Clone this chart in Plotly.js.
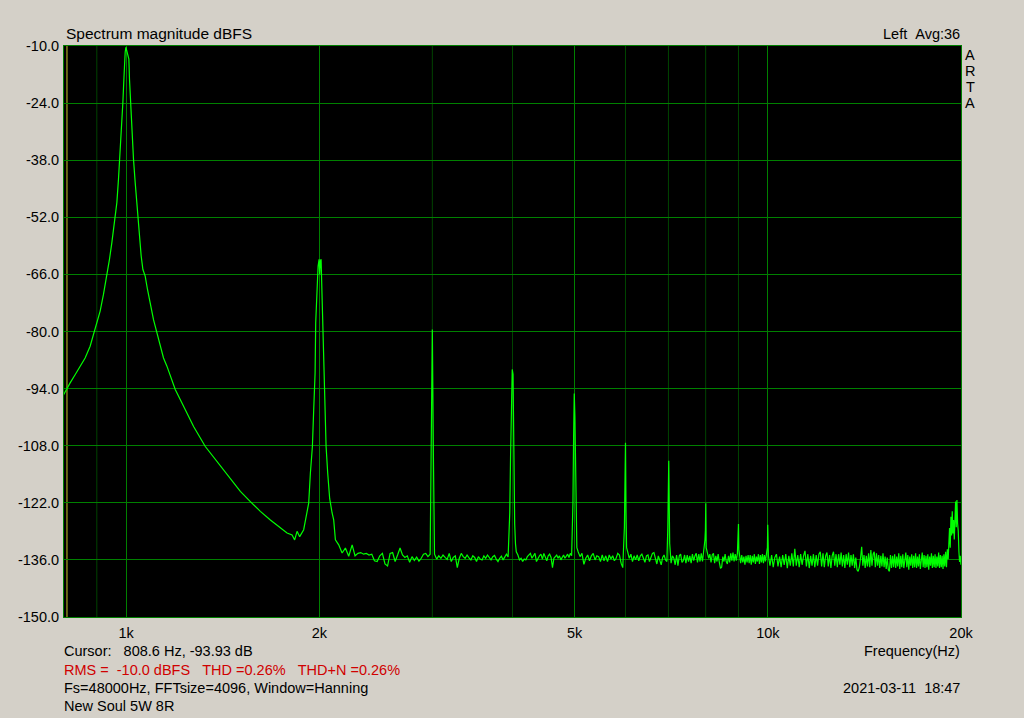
<!DOCTYPE html>
<html><head><meta charset="utf-8">
<script src="https://cdn.plot.ly/plotly-3.0.1.min.js"></script>
<style>html,body{margin:0;padding:0;background:#D4D0C8;overflow:hidden}#chart{width:1024px;height:718px}</style>
</head><body><div id="chart"></div>
<script>
// FFT parameters (shown on the chart)
const sampleRate = 48000;
const fftSize = 4096;
const cursorHz = 808.6;

// Axis ticks
const yTicks = [-10, -24, -38, -52, -66, -80, -94, -108, -122, -136, -150];
const yTickText = ['-10.0', '-24.0', '-38.0', '-52.0', '-66.0', '-80.0', '-94.0', '-108.0', '-122.0', '-136.0', '-150.0'];
const xMajorTicks = [1000, 2000, 5000, 10000, 20000];
const xTickText = ['1k', '2k', '5k', '10k', '20k'];
const xMinorGrid = [900, 3000, 4000, 6000, 7000, 8000, 9000];

// Fundamental, its skirt and the 2nd harmonic (Hz, dBFS)
const peakHz = [796.9, 808.6, 817.8, 832.5, 847.7, 863.0, 878.6, 889.2, 900.0, 910.8, 921.7, 933.0, 941.8, 949.9, 955.4, 961.3, 967.1, 972.7, 976.2, 981.1, 984.7, 988.2, 991.8, 993.9, 996.4, 998.9, 1002.5, 1006.1, 1009.7, 1011.9, 1014.5, 1018.1, 1021.8, 1026.6, 1032.9, 1039.2, 1042.9, 1049.0, 1055.3, 1061.8, 1070.6, 1079.5, 1090.0, 1103.0, 1116.5, 1129.8, 1143.3, 1157.4, 1178.4, 1192.5, 1214.0, 1231.8, 1273.6, 1328.3, 1385.4, 1444.3, 1506.3, 1561.4, 1618.5, 1677.6, 1738.9, 1781.2, 1813.5, 1830.5, 1846.3, 1863.7, 1890.7, 1925.0, 1936.8, 1950.8, 1959.9, 1969.8, 1974.0, 1983.9, 1991.0, 1998.2, 2002.5, 2007.5, 2012.5, 2016.9, 2024.2, 2031.4, 2041.7, 2049.0, 2060.9, 2075.7, 2093.7, 2105.7, 2118.6, 2143.9, 2170.3, 2196.1, 2222.3];
const peakDb = [-95.8, -93.9, -92.6, -90.6, -88.5, -86.5, -83.6, -80.7, -77.9, -75.0, -70.9, -66.4, -62.3, -58.2, -54.9, -52.5, -48.4, -42.7, -38.6, -33.7, -28.7, -23.8, -18.1, -14.0, -11.5, -10.3, -11.2, -12.0, -13.2, -18.1, -22.2, -27.9, -32.8, -37.8, -43.5, -49.2, -52.5, -56.6, -61.5, -64.8, -66.4, -69.7, -73.0, -77.1, -80.3, -83.6, -86.5, -88.5, -91.8, -94.2, -96.7, -98.7, -103.3, -108.2, -111.9, -115.5, -119.2, -121.7, -124.1, -126.2, -128.2, -129.4, -129.9, -131.1, -129.0, -130.3, -128.6, -122.1, -114.7, -108.2, -99.2, -90.1, -77.9, -68.9, -64.0, -62.3, -66.0, -62.8, -62.3, -68.0, -78.7, -90.1, -99.2, -108.2, -114.7, -121.0, -124.5, -126.2, -131.1, -132.3, -134.3, -133.1, -135.1];

// Noise floor, read in FFT bins (start bin, bin step, dBFS values)
const floor1Start = 192, floor1Step = 2;
const floor1Db = [-132.3, -135.0, -134.4, -134.2, -134.6, -134.4, -134.8, -134.6, -136.2, -136.4, -135.0, -134.4, -137.0, -137.5, -134.4, -134.2, -136.4, -134.8, -133.1, -134.8, -135.4, -135.0, -136.6, -135.2, -136.1, -135.3, -136.3, -135.6, -134.6, -134.4, -135.2, -134.6];
const floor2Start = 258, floor2Step = 2;
const floor2Db = [-134.6, -135.8, -135.0, -135.6, -134.8, -135.4, -135.9, -134.4, -136.4, -135.4, -135.0, -137.9, -135.6, -134.4, -135.2, -135.6, -134.8, -135.5, -136.0, -135.0, -135.4, -136.4, -135.2, -135.8, -136.0, -135.0, -135.6, -134.8, -135.4, -136.0, -135.2, -134.9, -135.8, -136.4, -135.6, -135.1, -136.0, -135.2, -134.6, -135.3, -126.0, -126.0, -126.0, -126.0, -134.0, -134.8, -136.0, -135.6, -136.4, -135.8, -136.0, -135.2, -134.8, -134.4, -135.6, -135.0, -134.4, -136.4, -135.6, -135.0, -134.6, -135.8, -134.4, -135.4, -136.2, -135.0, -134.6, -135.4, -137.9, -135.6, -135.2, -134.8, -135.6, -135.0, -136.0, -135.4, -134.8, -135.6, -135.2, -134.6, -135.4, -134.4, -135.0, -130.0];
const floor3Start = 429, floor3Step = 3;
const floor3Db = [-128.0, -134.0, -135.2, -134.4, -137.1, -135.6, -134.8, -136.2, -135.0, -134.4, -136.0, -135.0, -135.2, -136.4, -134.8, -136.2, -135.0, -136.4, -134.8, -135.8, -135.0, -136.2, -135.6, -134.4, -134.8, -136.8, -137.9, -128.0, -124.4, -134.0, -135.6, -134.6, -136.4, -135.0, -136.0, -134.8, -136.2, -135.0, -134.6, -135.6, -136.6, -135.0, -134.8, -136.4, -135.6, -134.4, -134.2, -136.0, -137.0, -135.0, -136.4, -137.2, -135.4, -134.8, -136.0, -136.4, -117.0, -132.0, -136.8, -135.0, -135.6, -137.2, -134.8, -137.4, -135.0, -134.6, -136.6, -136.2, -134.8, -136.8, -134.8, -136.4, -135.0, -136.8, -134.6, -136.2, -135.0, -134.4, -136.6, -134.6, -136.4, -134.4, -136.4, -134.2, -131.0, -133.0, -134.2, -135.6, -134.6, -136.6, -134.8, -134.4, -136.8, -135.0, -136.4, -134.6, -136.6, -138.1, -137.8, -135.2, -136.4, -134.6, -136.4, -137.0, -135.0, -136.6, -134.4, -136.2, -134.2, -136.4, -134.6, -136.2, -134.4, -127.2, -135.4, -136.8, -134.8, -136.6, -135.2, -137.2, -135.0, -136.6, -134.8, -136.8, -134.8, -137.2, -135.0, -136.6, -134.6, -137.0, -135.2, -136.4, -134.6, -137.0, -134.8, -136.6, -134.6, -136.8, -134.8, -136.4, -134.6, -133.0];
const floor4Start = 855, floor4Step = 5;
const floor4Db = [-135.0, -137.4, -134.8, -137.8, -135.4, -134.6, -137.6, -135.2, -137.8, -134.8, -137.2, -134.6, -138.0, -135.0, -137.4, -134.4, -137.6, -133.3, -137.4, -134.8, -137.8, -134.6, -137.2, -135.0, -133.8, -137.6, -134.6, -138.0, -135.0, -137.4, -134.6, -137.8, -134.8, -137.4, -134.6, -134.0, -137.6, -134.4, -137.8, -135.0, -134.2, -137.6, -134.8, -138.0, -135.0, -134.0, -137.4, -134.6, -137.8, -134.6, -137.2, -134.2, -137.6, -134.8, -138.0, -134.6, -137.2, -134.2, -137.8, -134.8, -137.4, -134.6, -138.0, -135.4, -138.4, -138.8, -137.8, -135.6, -132.8, -137.4, -134.8, -138.0, -135.0, -137.6, -134.4, -137.8, -133.6, -137.4, -134.6, -134.0, -137.8, -134.4, -137.4, -134.8, -138.0, -135.0, -137.6, -134.4, -137.8, -135.2, -138.2, -135.4, -138.4, -138.8, -134.8, -138.0, -135.0, -137.8, -134.6, -138.0, -135.2, -137.6, -134.4, -138.2, -135.0, -137.8, -134.6, -138.0, -135.4, -134.2, -137.8, -134.8, -138.4, -135.2, -137.4, -134.6, -138.0, -135.0, -137.8, -134.4, -138.0, -135.2, -137.6, -134.6, -138.2, -135.4, -134.2, -137.8, -134.8, -138.0, -135.0, -137.8, -134.6, -138.4, -135.2, -137.4, -134.4, -138.0, -135.0, -137.8, -134.6, -138.0, -135.2, -137.6, -134.2, -138.0, -134.8, -137.8, -135.0, -138.2, -134.6, -137.6, -134.0, -137.8, -133.4, -135.8];
const floor5Start = 1634, floor5Step = 4;
const floor5Db = [-131.0, -128.2, -133.0, -125.4, -130.0, -124.1, -129.5, -126.2, -131.0, -124.0, -121.7, -128.0, -121.3, -127.0, -129.0, -134.0, -136.5, -135.0, -137.2, -135.5];

// Harmonics 3k..10k, read in FFT bins
const harmBins = [255, 256, 257, 338, 339, 340, 341, 342, 343, 344, 345, 423, 424, 425, 426, 427, 428, 429, 430, 510, 511, 512, 513, 514, 596, 597, 598, 599, 600, 681, 682, 683, 684, 766, 767, 768, 769, 852, 853, 854];
const harmDb = [-110.4, -79.5, -111.0, -124.4, -110.2, -95.0, -89.3, -90.5, -116.8, -127.1, -132.0, -130.0, -122.1, -106.1, -95.2, -100.8, -116.2, -128.0, -133.0, -128.0, -110.4, -107.3, -124.4, -133.0, -128.0, -117.0, -111.7, -122.1, -132.0, -131.0, -128.8, -122.1, -133.0, -132.0, -129.4, -127.2, -133.5, -133.0, -127.4, -132.3];

// ---- build the trace ----
const binHz = sampleRate / fftSize;
const floorMap = new Map();
function addSeg(start, step, vals) { vals.forEach((v, i) => floorMap.set(start + i * step, v)); }
addSeg(floor1Start, floor1Step, floor1Db);
addSeg(floor2Start, floor2Step, floor2Db);
addSeg(floor3Start, floor3Step, floor3Db);
addSeg(floor4Start, floor4Step, floor4Db);
addSeg(floor5Start, floor5Step, floor5Db);
harmBins.forEach((b, i) => floorMap.set(b, harmDb[i]));
const floorBins = [...floorMap.keys()].sort((a, b) => a - b);
const xs = peakHz.concat(floorBins.map(b => b * binHz));
const ys = peakDb.concat(floorBins.map(b => floorMap.get(b)));

const FONT = 'Liberation Sans, Arial, sans-serif';
const W = 1024, H = 718, L = 64, R = 63, T = 46, B = 101;
const pw = W - L - R, ph = H - T - B;
const px = v => (v - L) / pw;
const py = v => (H - B - v) / ph;

function note(text, x, y, anchor, color, size) {
  return {text: text, xref: 'paper', yref: 'paper', x: px(x), y: py(y), xanchor: anchor, yanchor: 'middle',
    showarrow: false, borderpad: 0, font: {family: FONT, size: size || 14.5, color: color || '#000'}};
}
const nb = '\u00a0';
const annotations = [
  note('Left' + nb + nb + 'Avg:36', 961, 34, 'right'),
  note('A', 970, 55, 'center'),
  note('R', 970, 71, 'center'),
  note('T', 970, 87, 'center'),
  note('A', 970, 103, 'center'),
  note('Cursor:' + nb + nb + nb + '808.6 Hz, -93.93 dB', 63, 651, 'left'),
  note('RMS =' + nb + nb + '-10.0 dBFS' + nb + nb + nb + 'THD =0.26%' + nb + nb + nb + 'THD+N =0.26%', 63, 670, 'left', '#d00000'),
  note('Fs=48000Hz, FFTsize=4096, Window=Hanning', 63, 688, 'left'),
  note('New Soul 5W 8R', 63, 706, 'left'),
  note('Frequency(Hz)', 961, 651, 'right'),
  note('2021-03-11' + nb + nb + '18:47', 961, 688, 'right')
];

const shapes = xMinorGrid.map(f => ({type: 'line', xref: 'x', yref: 'paper', x0: f, x1: f, y0: 0, y1: 1,
  line: {color: '#004400', width: 1}, layer: 'below'}));
shapes.push({type: 'line', xref: 'x', yref: 'paper', x0: cursorHz, x1: cursorHz, y0: 0, y1: 1,
  line: {color: '#c8c828', width: 1}, layer: 'below'});

const layout = {
  width: W, height: H,
  margin: {l: L, r: R, t: T, b: B, pad: 0},
  paper_bgcolor: '#D4D0C8', plot_bgcolor: '#000000',
  showlegend: false,
  title: {text: 'Spectrum magnitude dBFS', x: 66 / W, xanchor: 'left', xref: 'container',
    y: 1 - 34 / H, yanchor: 'middle', yref: 'container', font: {family: FONT, size: 15.5, color: '#000'}},
  xaxis: {type: 'log', range: [Math.log10(800), Math.log10(20000)], tickmode: 'array',
    tickvals: xMajorTicks, ticktext: xTickText, showgrid: true, gridcolor: '#008000', gridwidth: 1,
    showline: true, linecolor: '#008000', linewidth: 1, mirror: true, zeroline: false, ticks: '',
    ticklabelstandoff: 3, automargin: false, tickfont: {family: FONT, size: 14.5, color: '#000'}},
  yaxis: {range: [-150, -10], tickmode: 'array', tickvals: yTicks, ticktext: yTickText,
    showgrid: true, gridcolor: '#008000', gridwidth: 1, showline: true, linecolor: '#008000', linewidth: 1,
    mirror: true, zeroline: false, ticks: '', ticklabelstandoff: 1, automargin: false,
    tickfont: {family: FONT, size: 14.5, color: '#000'}},
  annotations: annotations,
  shapes: shapes
};

Plotly.newPlot('chart', [{type: 'scatter', mode: 'lines', x: xs, y: ys,
  line: {color: '#00ff00', width: 1.2}, hoverinfo: 'skip'}], layout, {staticPlot: true, displayModeBar: false});
</script></body></html>
